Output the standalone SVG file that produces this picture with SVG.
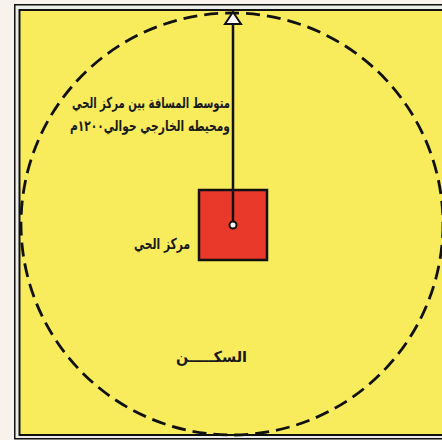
<svg xmlns="http://www.w3.org/2000/svg" width="442" height="440" viewBox="0 0 442 440">
<style>
.lbl{font-family:"DejaVu Sans","Noto Sans",sans-serif;font-weight:bold;fill:#1a1a1a;text-anchor:end}
</style>
<rect x="0" y="0" width="442" height="440" fill="#f7f3ec"/>
<g id="frame">
<rect x="14.75" y="4.75" width="440" height="434" fill="#ecece8" stroke="#111" stroke-width="1.5"/>
<rect x="19.5" y="10" width="440" height="425" fill="#f8ec5c" stroke="#111" stroke-width="2"/>
</g>
<g id="boundary">
<circle cx="232" cy="224" r="211" fill="none" stroke="#111" stroke-width="2.8" stroke-dasharray="14 7"/>
</g>
<g id="center">
<rect x="199" y="190" width="68" height="70" fill="#e8392a" stroke="#111" stroke-width="2.5"/>
</g>
<g id="connectors">
<line x1="233" y1="225" x2="233" y2="23" stroke="#111" stroke-width="2.5"/>
<polygon points="233,12 225,24 241,24" fill="#fff" stroke="#111" stroke-width="2"/>
<circle cx="233" cy="225" r="3.5" fill="#fff" stroke="#111" stroke-width="2"/>
</g>
<g id="labels">
<text class="lbl" x="230" y="108" font-size="15" textLength="158" lengthAdjust="spacingAndGlyphs">متوسط المسافة بين مركز الحي</text>
<text class="lbl" x="230" y="131" font-size="15" textLength="160" lengthAdjust="spacingAndGlyphs">ومحيطه الخارجي حوالي١٢٠٠م</text>
<text class="lbl" x="190" y="249" font-size="15" textLength="56" lengthAdjust="spacingAndGlyphs">مركز الحي</text>
<text class="lbl" x="247" y="362" font-size="15" textLength="71" lengthAdjust="spacingAndGlyphs">السكـــــن</text>
</g>
</svg>
